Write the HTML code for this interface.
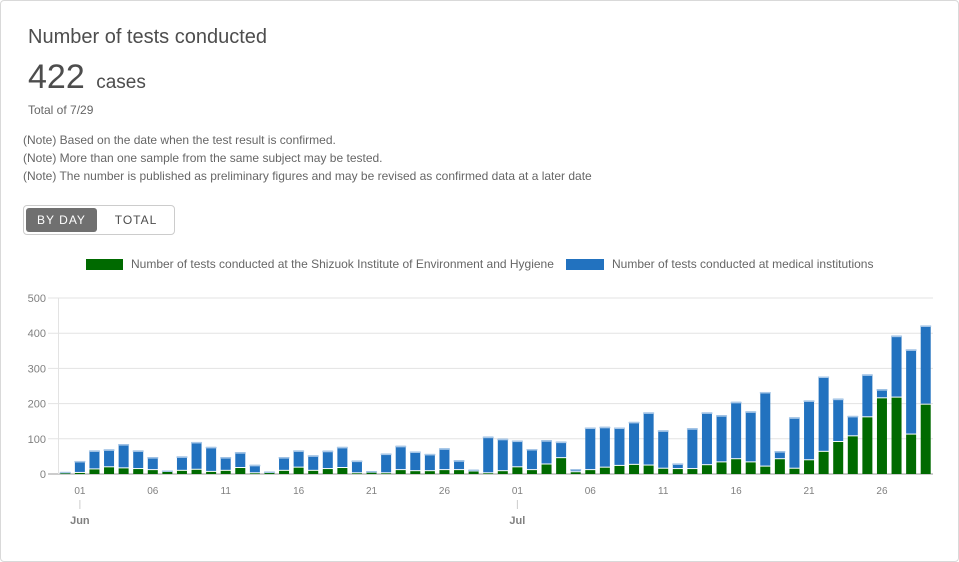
<!DOCTYPE html>
<html><head><meta charset="utf-8">
<style>
body{margin:0;width:959px;height:540px;overflow:hidden;background:#fff;font-family:"Liberation Sans",sans-serif;color:#4d4d4d;}
.card{position:absolute;left:0;top:0;width:957px;height:560px;border:1px solid #d9d9d9;border-radius:4px;}
.t{position:absolute;white-space:nowrap;}
</style></head><body>
<div class="card"></div>
<div class="t" style="left:28px;top:26px;font-size:20px;color:#4d4d4d;">Number of tests conducted</div>
<div class="t" style="left:28px;top:58px;font-size:34px;color:#4d4d4d;">422 <span style="font-size:19px;margin-left:2px;">cases</span></div>
<div class="t" style="left:28px;top:103px;font-size:12px;color:#666;">Total of 7/29</div>
<div class="t" style="left:23px;top:133px;font-size:12px;color:#666;">(Note) Based on the date when the test result is confirmed.</div>
<div class="t" style="left:23px;top:151px;font-size:12px;color:#666;">(Note) More than one sample from the same subject may be tested.</div>
<div class="t" style="left:23px;top:169px;font-size:12px;color:#666;">(Note) The number is published as preliminary figures and may be revised as confirmed data at a later date</div>
<div style="position:absolute;left:23px;top:205px;width:150px;height:28px;border:1px solid #ccc;border-radius:4px;"></div>
<div class="t" style="left:26px;top:208px;width:71px;height:24px;background:#707070;border-radius:3px;color:#fff;font-size:12px;letter-spacing:1px;text-align:center;line-height:24px;">BY DAY</div>
<div class="t" style="left:100px;top:208px;width:72px;height:24px;color:#4d4d4d;font-size:12px;letter-spacing:1px;text-align:center;line-height:24px;">TOTAL</div>
<svg id="chart" width="959" height="540" style="position:absolute;left:0;top:0;font-family:'Liberation Sans',sans-serif;"></svg>
<script>
const greenVals=[3,3,13,19,16,14,11,8,9,12,6,9,17,2,7,9,18,9,14,17,2,4,2,11,8,8,11,11,7,2,8,19,11,27,45,5,11,18,23,26,24,15,14,14,25,33,42,33,21,42,15,39,63,91,107,161,215,217,112,197];
const totalVals=[6,37,67,70,85,67,48,10,50,91,77,48,62,26,7,48,67,53,66,77,38,8,58,80,64,57,73,39,12,106,100,95,71,96,92,14,132,134,132,148,175,124,30,130,175,167,205,178,233,65,161,209,277,214,165,283,241,393,354,422];
const blueVals=totalVals.map((t,i)=>Math.max(0,t-greenVals[i]));
const yTicks=[0,100,200,300,400,500];
const dayLabels=["01","06","11","16","21","26","01","06","11","16","21","26"];
const dayIdx=[1,6,11,16,21,26,31,36,41,46,51,56];
const months=["Jun","Jul"];const monthIdx=[1,31];
const svg=document.getElementById('chart');const NS='http://www.w3.org/2000/svg';
const x0=58,x1=933,y0=474,yTop=298,n=greenVals.length,step=(x1-x0)/n,bw=10;
const ys=v=>y0-(v/500)*(y0-yTop);const xc=i=>x0+(i+0.5)*step;
function mk(t,a,p){const e=document.createElementNS(NS,t);for(const k in a)e.setAttribute(k,a[k]);(p||svg).appendChild(e);return e;}
yTicks.forEach((v,i)=>{
 const g=mk('line',{x1:48,x2:x1,y1:ys(v),y2:ys(v),stroke:v==0?'#999':'#e3e3e3','stroke-width':1});
 
 const t=mk('text',{x:46,y:ys(v)+4,'text-anchor':'end','font-size':11,fill:'#808080'});t.textContent=v;
 
});
const ax=mk('line',{x1:x0+0.5,x2:x0+0.5,y1:yTop,y2:y0,stroke:'#e3e3e3'});

for(let i=0;i<n;i++){
 const gh=y0-ys(greenVals[i]);
 const r1=mk('rect',{x:xc(i)-bw/2,y:y0-gh,width:bw,height:gh,fill:'#006a00'});
 
 const by=ys(greenVals[i]+blueVals[i]);const bh=Math.max(0,(y0-gh-1)-by);
 const r2=mk('rect',{x:xc(i)-bw/2,y:by,width:bw,height:bh,fill:'#2272bf'});
 
 const cap=mk('rect',{x:xc(i)-bw/2-0.5,y:by,width:bw+1,height:1.5,fill:'#a9c8e8'});
 
}
dayLabels.forEach((l,k)=>{const t=mk('text',{x:xc(dayIdx[k]),y:494,'text-anchor':'middle','font-size':10,fill:'#808080'});t.textContent=l;
 });
months.forEach((m,k)=>{const x=xc(monthIdx[k]);
 const l=mk('line',{x1:x,x2:x,y1:500,y2:509,stroke:'#ccc'});
 const t=mk('text',{x:x,y:524,'text-anchor':'middle','font-size':11,'font-weight':'bold',fill:'#808080'});t.textContent=m;
 });
const lg1=mk('rect',{x:86,y:259,width:37,height:11,fill:'#006a00'});
const lt1=mk('text',{x:131,y:268,'font-size':12,fill:'#666'});lt1.textContent='Number of tests conducted at the Shizuok Institute of Environment and Hygiene';

const lg2=mk('rect',{x:566,y:259,width:38,height:11,fill:'#2272bf'});
const lt2=mk('text',{x:612,y:268,'font-size':12,fill:'#666'});lt2.textContent='Number of tests conducted at medical institutions';

</script>
</body></html>
